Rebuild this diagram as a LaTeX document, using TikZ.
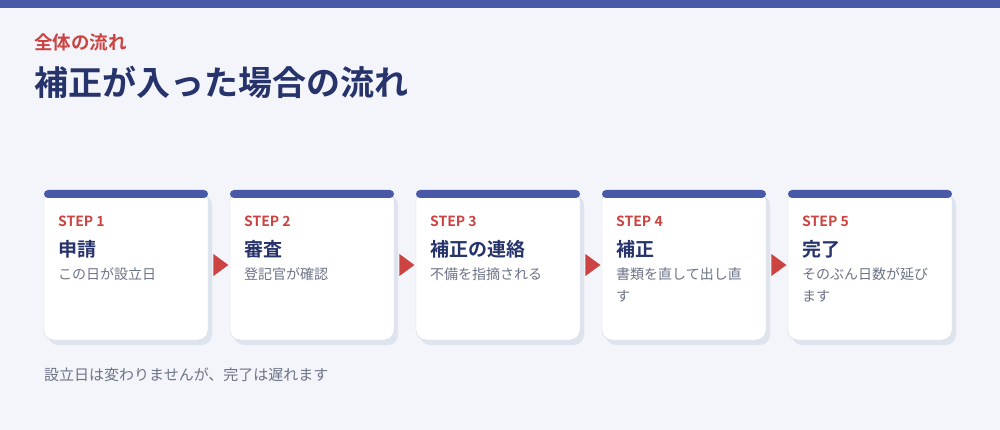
\documentclass[tikz,border=0pt]{standalone}
\usepackage{fontspec}
\setmainfont{Noto Sans CJK JP}[BoldFont={Noto Sans CJK JP Bold}]
\usetikzlibrary{shapes.geometric,calc}
\definecolor{bgc}{HTML}{F4F5FA}
\definecolor{barc}{HTML}{4A59A7}
\definecolor{accent}{HTML}{CC4441}
\definecolor{navy}{HTML}{27336B}
\definecolor{greyc}{HTML}{6B7386}
\definecolor{shadowc}{HTML}{DEE4ED}
\definecolor{cardline}{HTML}{D3DAE5}
\begin{document}
\begin{tikzpicture}[x=1pt,y=-1pt,
  cardbox/.style={minimum width=164pt, minimum height=150pt, inner sep=0pt, outer sep=0pt},
  steplabel/.style={anchor=base west, inner sep=0pt, text=accent, font=\fontsize{14}{16}\selectfont\bfseries},
  titlelabel/.style={anchor=base west, inner sep=0pt, text=navy, font=\fontsize{19}{22}\selectfont\bfseries},
  desclabel/.style={anchor=base west, inner sep=0pt, text=greyc, font=\fontsize{14}{22.5}\selectfont},
  arrowtri/.style={isosceles triangle, isosceles triangle stretches, fill=accent, inner sep=0pt, minimum width=22pt, minimum height=15pt, shape border rotate=0},
]
\useasboundingbox (0,0) rectangle (1000,430);
\fill[bgc] (0,0) rectangle (1000,430);
\fill[barc] (0,0) rectangle (1000,8);
\node[anchor=base west, inner sep=0pt, text=accent, font=\fontsize{18.5}{22}\selectfont\bfseries] (kicker) at (34,50) {全体の流れ};
\node[anchor=base west, inner sep=0pt, text=navy, font=\fontsize{34}{40}\selectfont\bfseries] (title) at (34,96) {補正が入った場合の流れ};
\foreach \i/\ttl/\desc in {1/申請/この日が設立日, 2/審査/登記官が確認, 3/補正の連絡/不備を指摘される, 4/補正/{書類を直して出し直\\す}, 5/完了/{そのぶん日数が延び\\ます}} {
  \node[cardbox] (c\i) at ({126+186*(\i-1)},265) {};
  \fill[shadowc, rounded corners=10pt] ($(c\i.north west)+(4,5)$) rectangle ($(c\i.south east)+(4,5)$);
  \filldraw[draw=cardline, fill=white, rounded corners=10pt] (c\i.north west) rectangle (c\i.south east);
  \fill[barc, rounded corners=4pt] (c\i.north west) rectangle ($(c\i.north east)+(0,8)$);
  \node[steplabel] (s\i) at ($(c\i.north west)+(14,37)$) {STEP \i};
  \node[titlelabel] (t\i) at ($(c\i.north west)+(14,66)$) {\ttl};
  \node[desclabel] (d\i) at ($(c\i.north west)+(14,89)$) {\begin{tabular}[t]{@{}l@{}}\desc\end{tabular}};
}
\foreach \i/\j in {1/2,2/3,3/4,4/5} {
  \node[arrowtri] (a\i) at ($(c\i.east)!0.5!(c\j.west)$) {};
}
\node[anchor=base west, inner sep=0pt, text=greyc, font=\fontsize{15}{18}\selectfont] (note) at (44,380) {設立日は変わりませんが、完了は遅れます};
\end{tikzpicture}
\end{document}
